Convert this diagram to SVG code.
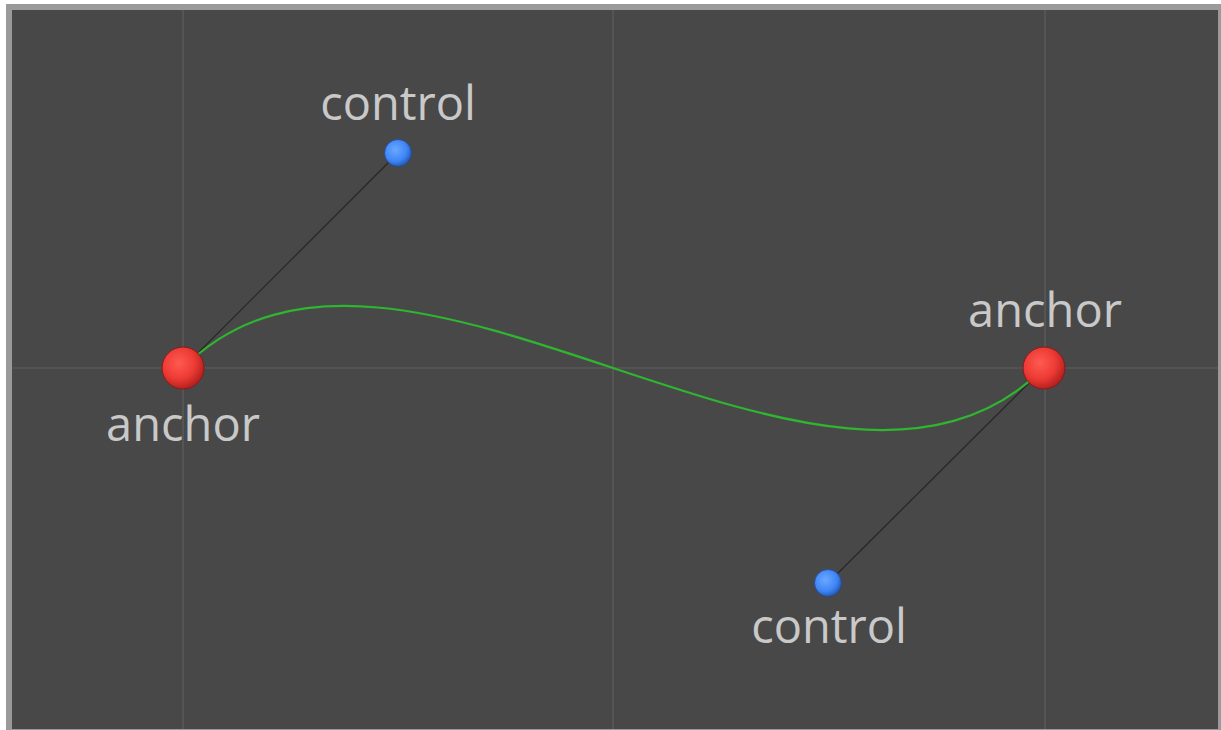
<svg xmlns="http://www.w3.org/2000/svg" width="1221" height="730" viewBox="0 0 1221 730">
<style>
.grid{stroke:#5e5e5e;stroke-width:1.2;fill:none}
.handle{stroke:#262626;stroke-width:1.2;fill:none}
.curve{stroke:#2fb52f;stroke-width:2.2;fill:none}
.lbl{font-family:"Open Sans","Liberation Sans",sans-serif;font-size:47px;fill:#c9c9c9;text-anchor:middle}
</style>
<defs>
<radialGradient id="red" cx="0.4" cy="0.38" r="0.65">
<stop offset="0" stop-color="#ff5a52"/>
<stop offset="0.6" stop-color="#ec3a33"/>
<stop offset="1" stop-color="#b01e1e"/>
</radialGradient>
<radialGradient id="blue" cx="0.4" cy="0.38" r="0.65">
<stop offset="0" stop-color="#6aa8ff"/>
<stop offset="0.65" stop-color="#3f86f5"/>
<stop offset="1" stop-color="#2456b0"/>
</radialGradient>
</defs>
<rect x="0" y="0" width="1221" height="730" fill="#ffffff"/>
<rect x="6" y="4" width="1215" height="726" fill="#9a9a9a"/>
<rect x="12" y="10" width="1206" height="719" fill="#484848"/>
<g id="grid">
<line class="grid" x1="183" y1="10" x2="183" y2="729"/>
<line class="grid" x1="613" y1="10" x2="613" y2="729"/>
<line class="grid" x1="1045" y1="10" x2="1045" y2="729"/>
<line class="grid" x1="12" y1="368" x2="1218" y2="368"/>
</g>
<g id="connectors">
<line class="handle" x1="183" y1="368" x2="398" y2="153"/>
<line class="handle" x1="1044" y1="368" x2="828" y2="583"/>
<path class="curve" d="M183,368 C398,153 828,583 1044,368"/>
</g>
<g id="anchor-left">
<circle cx="183" cy="368" r="21" fill="url(#red)" stroke="#8a1a1a" stroke-width="1"/>
<text class="lbl" x="183" y="441">anchor</text>
</g>
<g id="anchor-right">
<circle cx="1044" cy="368" r="21" fill="url(#red)" stroke="#8a1a1a" stroke-width="1"/>
<text class="lbl" x="1045" y="327">anchor</text>
</g>
<g id="control-top">
<circle cx="398" cy="153" r="13.5" fill="url(#blue)" stroke="#23489a" stroke-width="0.8"/>
<text class="lbl" x="398" y="120">control</text>
</g>
<g id="control-bottom">
<circle cx="828" cy="583" r="13.5" fill="url(#blue)" stroke="#23489a" stroke-width="0.8"/>
<text class="lbl" x="829" y="643">control</text>
</g>
</svg>
